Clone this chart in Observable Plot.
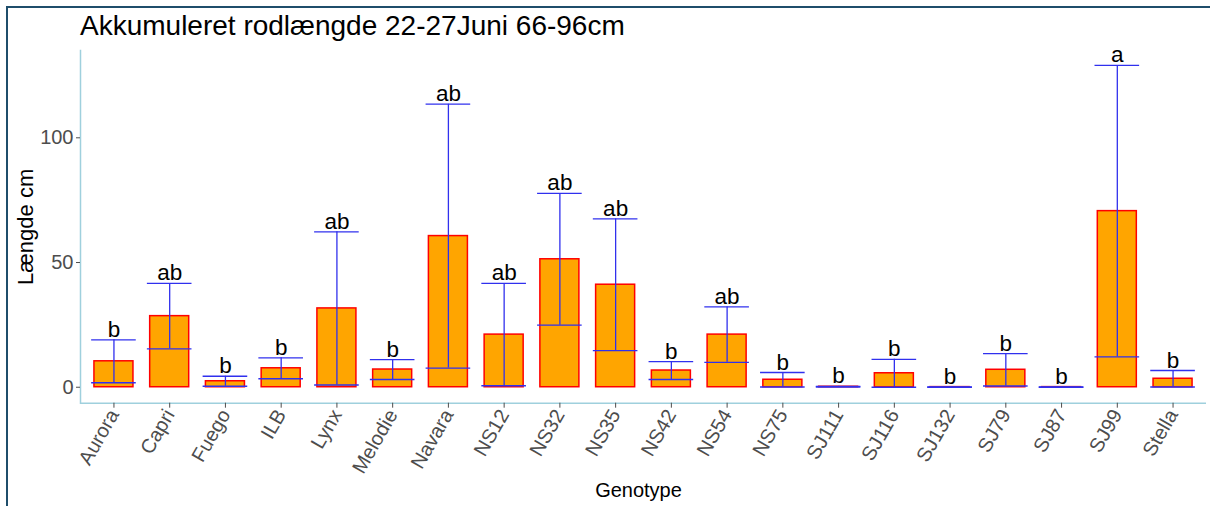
<!DOCTYPE html>
<html>
<head>
<meta charset="utf-8">
<script src="https://cdn.jsdelivr.net/npm/d3@7"></script>
<script src="https://cdn.jsdelivr.net/npm/@observablehq/plot@0.6"></script>
<style>
  html, body { margin: 0; padding: 0; background: #ffffff; }
  #wrap { position: relative; width: 1210px; height: 506px; overflow: hidden; background: #ffffff; }
  #border { position: absolute; left: 6px; top: 6px; right: -10px; bottom: -10px; border-top: 2px solid #1f4e6b; border-left: 2px solid #1f4e6b; }
  #title { position: absolute; left: 80px; top: 12px; margin: 0; font: 400 28px/1 "Liberation Sans", Arial, sans-serif; color: #000; white-space: nowrap; }
  #chart { position: absolute; left: 0; top: 0; }
</style>
</head>
<body>
<div id="wrap">
  <div id="border"></div>
  <div id="chart"></div>
  <h1 id="title">Akkumuleret rodlængde 22-27Juni 66-96cm</h1>
</div>
<script>
const genotypes = ["Aurora","Capri","Fuego","ILB","Lynx","Melodie","Navara","NS12","NS32","NS35","NS42","NS54","NS75","SJ111","SJ116","SJ132","SJ79","SJ87","SJ99","Stella"];
const means = [10.4, 28.5, 2.4, 7.6, 31.6, 7.1, 60.6, 21.1, 51.3, 41.1, 6.7, 21.1, 3.0, 0.2, 5.6, 0.05, 7.0, 0.05, 70.6, 3.4];
const errs  = [8.6, 13.1, 2.0, 4.2, 30.7, 4.0, 52.9, 20.5, 26.4, 26.4, 3.6, 11.1, 2.9, 0.15, 5.6, 0.05, 6.5, 0.05, 58.4, 3.3];
const groups = ["b","ab","b","b","ab","b","ab","ab","ab","ab","b","ab","b","b","b","b","b","b","a","b"];
const yTicks = [0, 50, 100];

const data = genotypes.map((g, i) => ({g, mean: means[i], lo: means[i] - errs[i], hi: means[i] + errs[i], grp: groups[i]}));

const axisColor = "#9fd0dd";
const errColor = "#3030ee";

const chart = Plot.plot({
  width: 1210,
  height: 506,
  marginTop: 50,
  marginBottom: 103.3,
  marginLeft: 80,
  marginRight: 4,
  style: {fontFamily: "'Liberation Sans', Arial, sans-serif", background: "transparent", overflow: "visible"},
  x: {domain: genotypes, paddingInner: 0.3, paddingOuter: 0.25, round: false},
  y: {domain: [-6.4, 135]},
  marks: [
    Plot.ruleY([-6.4], {stroke: axisColor, strokeWidth: 1.5}),
    Plot.frame({anchor: "left", stroke: axisColor, strokeWidth: 1.5}),
    Plot.barY(data, {x: "g", y: "mean", fill: "#FFA500", stroke: "#FF0000", strokeWidth: 1.5}),
    Plot.ruleX(data, {x: "g", y1: "lo", y2: "hi", stroke: errColor, strokeWidth: 1.3}),
    Plot.tickY(data, {x: "g", y: "hi", stroke: errColor, strokeWidth: 1.3, insetLeft: -2.8, insetRight: -2.8}),
    Plot.tickY(data, {x: "g", y: "lo", stroke: errColor, strokeWidth: 1.3, insetLeft: -2.8, insetRight: -2.8}),
    Plot.text(data, {x: "g", y: "hi", text: "grp", lineAnchor: "bottom", dy: -3, fontSize: 22.5, fill: "#000"}),
    Plot.axisY({ticks: yTicks, tickSize: 4, tickPadding: 3, fontSize: 20, color: "#4d4d4d", label: null}),
    Plot.axisX({tickRotate: -60, tickSize: 5, tickPadding: 3, fontSize: 20, color: "#4d4d4d", label: null}),
    Plot.text(["Længde cm"], {frameAnchor: "left", text: d => d, rotate: -90, textAnchor: "middle", dx: -55, fontSize: 22, fill: "#000"}),
    Plot.text(["Genotype"], {frameAnchor: "bottom", text: d => d, textAnchor: "middle", lineAnchor: "bottom", dy: 94, dx: -5, fontSize: 20, fill: "#000"})
  ]
});
document.getElementById("chart").appendChild(chart);
</script>
</body>
</html>
